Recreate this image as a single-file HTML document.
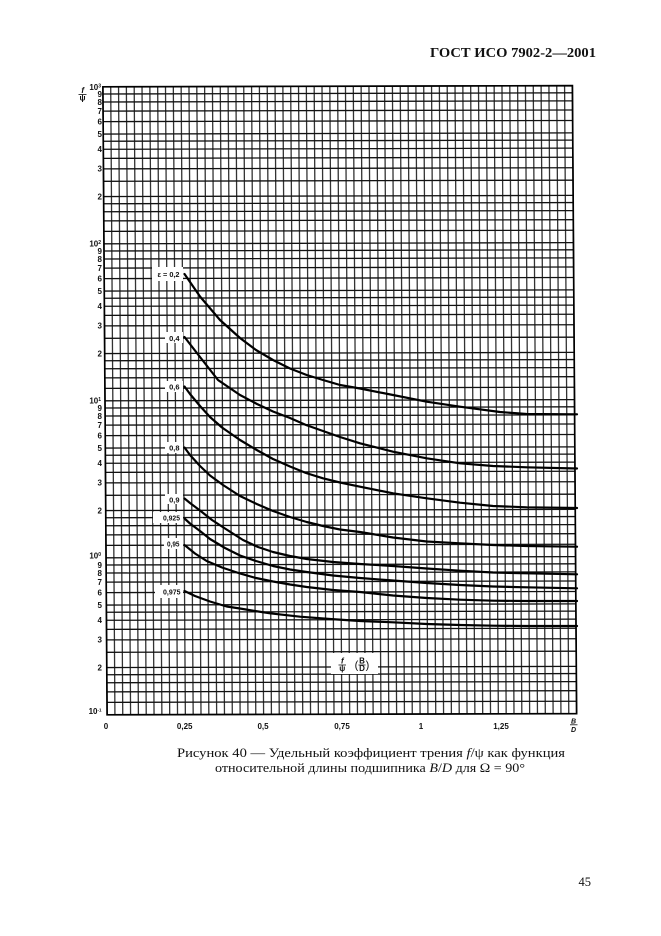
<!DOCTYPE html>
<html><head><meta charset="utf-8"><style>
html,body{margin:0;padding:0;background:#fff;}
svg{display:block;}
.t{font-family:"Liberation Sans",sans-serif;font-weight:bold;font-size:8px;fill:#111;}
.c{font-family:"Liberation Sans",sans-serif;font-weight:bold;font-size:7.5px;fill:#111;}
.s{font-family:"Liberation Serif","Noto Serif CJK SC",serif;fill:#111;}
</style></head><body>
<svg width="661" height="936" viewBox="0 0 661 936" xmlns="http://www.w3.org/2000/svg">
<rect width="661" height="936" fill="#fff"/>
<text class="s" x="596" y="57" text-anchor="end" font-weight="bold" font-size="13.5" textLength="166" lengthAdjust="spacingAndGlyphs">ГОСТ ИСО 7902-2—2001</text>

<g transform="matrix(7.825 -0.0192 0.0105 1.57 102.9 86.8)" fill="none">
<path stroke="#333" stroke-width="1.3" vector-effect="non-scaling-stroke" d="M0 0V400M1 0V400M2 0V400M3 0V400M4 0V400M5 0V400M6 0V400M7 0V400M8 0V400M9 0V400M10 0V400M11 0V400M12 0V400M13 0V400M14 0V400M15 0V400M16 0V400M17 0V400M18 0V400M19 0V400M20 0V400M21 0V400M22 0V400M23 0V400M24 0V400M25 0V400M26 0V400M27 0V400M28 0V400M29 0V400M30 0V400M31 0V400M32 0V400M33 0V400M34 0V400M35 0V400M36 0V400M37 0V400M38 0V400M39 0V400M40 0V400M41 0V400M42 0V400M43 0V400M44 0V400M45 0V400M46 0V400M47 0V400M48 0V400M49 0V400M50 0V400M51 0V400M52 0V400M53 0V400M54 0V400M55 0V400M56 0V400M57 0V400M58 0V400M59 0V400M60 0V400"/>
<path stroke="#111" stroke-width="1.3" vector-effect="non-scaling-stroke" d="M0 0H60M0 4.576H60M0 9.691H60M0 15.49H60M0 22.185H60M0 30.103H60M0 34.679H60M0 39.794H60M0 45.593H60M0 52.288H60M0 60.206H60M0 69.897H60M0 74.473H60M0 79.588H60M0 85.387H60M0 92.082H60
M0 100H60M0 104.576H60M0 109.691H60M0 115.49H60M0 122.185H60M0 130.103H60M0 134.679H60M0 139.794H60M0 145.593H60M0 152.288H60M0 160.206H60M0 169.897H60M0 174.473H60M0 179.588H60M0 185.387H60M0 192.082H60
M0 200H60M0 204.576H60M0 209.691H60M0 215.49H60M0 222.185H60M0 230.103H60M0 234.679H60M0 239.794H60M0 245.593H60M0 252.288H60M0 260.206H60M0 269.897H60M0 274.473H60M0 279.588H60M0 285.387H60M0 292.082H60
M0 300H60M0 304.576H60M0 309.691H60M0 315.49H60M0 322.185H60M0 330.103H60M0 334.679H60M0 339.794H60M0 345.593H60M0 352.288H60M0 360.206H60M0 369.897H60M0 374.473H60M0 379.588H60M0 385.387H60M0 392.082H60
M0 400H60"/>
<path stroke="#000" stroke-width="1.7" vector-effect="non-scaling-stroke" d="M0 0H60V400H0Z"/>
</g>

<!-- label boxes -->
<g fill="#fff">
<rect x="152" y="267" width="31" height="14"/>
<rect x="165" y="332" width="18" height="11"/>
<rect x="165" y="381" width="18" height="11"/>
<rect x="165" y="442" width="18" height="11"/>
<rect x="165" y="494" width="18" height="10"/>
<rect x="153" y="512" width="30" height="11"/>
<rect x="164" y="538" width="19" height="11"/>
<rect x="155" y="585" width="28" height="13"/>
<rect x="331" y="653" width="47" height="21"/>
</g>

<!-- curve labels -->
<g class="c" text-anchor="end">
<text x="179.5" y="277" textLength="22" lengthAdjust="spacingAndGlyphs">ε = 0,2</text>
<text x="179.5" y="341">0,4</text>
<text x="179.5" y="389.7">0,6</text>
<text x="179.5" y="450.3">0,8</text>
<text x="179.5" y="502.3">0,9</text>
<text x="180" y="520.3" textLength="17" lengthAdjust="spacingAndGlyphs">0,925</text>
<text x="179.5" y="546.3" textLength="12.5" lengthAdjust="spacingAndGlyphs">0,95</text>
<text x="180.5" y="594.7" textLength="17.5" lengthAdjust="spacingAndGlyphs">0,975</text>
</g>

<!-- curves -->
<g fill="none" stroke="#000" stroke-width="2.2" stroke-linejoin="round" stroke-linecap="round">
<polyline points="184.5,274 200,296.5 220,320 240,338 256,350 273,360 290,368.5 306.7,375 323,380 340,385 360,388.5 393,395 426.7,401.7 460,406.7 500,412 526.7,414 577,414.3"/>
<polyline points="184.5,337 200,357 218,380 240,395 257,404 273,411.5 290,418 306,425 323,431 340,437 360,443.3 393,451.7 426.7,458.3 460,463.3 493,466 526.7,467.3 577,468.5"/>
<polyline points="184.5,386.5 190,394 200,406 210,417 222,427.5 240,440 256.7,450 273,459 290,466.5 306,473 323,478.3 340,482.5 360,486.7 393,493.3 426.7,498.3 460,502.7 493,506 526.7,507.3 577,508"/>
<polyline points="184.5,447.5 190,455 200,466 210,475.5 223,485 240,496 256.7,504 273,511 290,517 306.7,522 323,526 340,529.5 360,532 393,537.5 426.7,541.5 460,543.3 493,545 526.7,546 577,546.7"/>
<polyline points="184.5,498.5 190,503 200,510.5 212,520 225,528.5 243,540 258,547 273,552 290,556 306.7,559 333,562 360,564 393,566 426.7,568.5 460,570.7 493,572.5 526.7,573.3 577,574.3"/>
<polyline points="184.5,518.5 190,523.5 200,531 210,539 225,548 240,555.5 256,561 273,566 290,569.5 306.7,572 333,575.5 360,578 393,580.5 426.7,583 460,585 493,586.5 526.7,587.3 577,588.3"/>
<polyline points="184.5,545 195,553.5 206.7,561 222,567.5 240,573.5 256,578 273,581.5 290,584.5 306.7,587 333,590 360,592 393,595.5 426.7,598 460,599.7 493,600.7 526.7,601 577,601"/>
<polyline points="184.5,591 195,596 210,601.5 226.7,606.5 240,608.5 255,611 270,613.3 300,616.7 330,619 360,621 393,622.3 426.7,624 460,625 493,625.7 526.7,626 577,626"/>
</g>

<!-- f/psi (B/D) label inside chart -->
<g class="t" font-size="6.5" text-anchor="middle">
<text x="342.3" y="663.5" font-style="italic">f</text>
<line x1="338.5" y1="665" x2="346" y2="665" stroke="#111" stroke-width="0.8"/>
<text x="342.3" y="671">ψ</text>
<text x="356.5" y="668.5" font-size="11" font-weight="normal">(</text>
<text x="362" y="663.5">B</text>
<line x1="358.5" y1="665" x2="365.5" y2="665" stroke="#111" stroke-width="0.8"/>
<text x="362" y="671">D</text>
<text x="367.5" y="668.5" font-size="11" font-weight="normal">)</text>
</g>

<!-- y-axis label f/psi -->
<g class="t" font-size="6.5" text-anchor="middle">
<text x="82.7" y="93" font-style="italic">f</text>
<line x1="78.5" y1="94.5" x2="86.5" y2="94.5" stroke="#111" stroke-width="0.8"/>
<text x="82.5" y="100.5">ψ</text>
</g>

<!-- y tick labels -->
<g class="t" text-anchor="end">
<text x="101" y="90">10<tspan font-size="5" dy="-2.5">3</tspan></text>
<text x="102" y="96.8">9</text><text x="102" y="104.8">8</text><text x="102" y="113.9">7</text><text x="102" y="124.4">6</text><text x="102" y="136.9">5</text><text x="102" y="152.1">4</text><text x="102" y="171.7">3</text><text x="102" y="199.3">2</text>
<text x="101" y="246.6">10<tspan font-size="5" dy="-2.5">2</tspan></text>
<text x="102" y="253.8">9</text><text x="102" y="261.8">8</text><text x="102" y="270.9">7</text><text x="102" y="281.4">6</text><text x="102" y="293.9">5</text><text x="102" y="309.1">4</text><text x="102" y="328.7">3</text><text x="102" y="356.3">2</text>
<text x="101" y="403.6">10<tspan font-size="5" dy="-2.5">1</tspan></text>
<text x="102" y="410.8">9</text><text x="102" y="418.8">8</text><text x="102" y="427.9">7</text><text x="102" y="438.4">6</text><text x="102" y="450.9">5</text><text x="102" y="466.1">4</text><text x="102" y="485.7">3</text><text x="102" y="513.3">2</text>
<text x="101" y="558.6">10<tspan font-size="5" dy="-2.5">0</tspan></text>
<text x="102" y="567.8">9</text><text x="102" y="575.8">8</text><text x="102" y="584.9">7</text><text x="102" y="595.4">6</text><text x="102" y="607.9">5</text><text x="102" y="623.1">4</text><text x="102" y="642.7">3</text><text x="102" y="670.3">2</text>
<text x="101.5" y="714">10<tspan font-size="4.5" dy="-2.5">-1</tspan></text>
</g>

<!-- x tick labels -->
<g class="t" text-anchor="middle" font-size="7.5">
<text x="106" y="729">0</text>
<text x="184.7" y="729">0,25</text>
<text x="263" y="729">0,5</text>
<text x="342" y="729">0,75</text>
<text x="421" y="729">1</text>
<text x="501" y="729">1,25</text>
<text x="573.5" y="723.3" font-size="7" font-style="italic">B</text>
<line x1="570" y1="724.8" x2="577.5" y2="724.8" stroke="#111" stroke-width="0.8"/>
<text x="573.5" y="731.8" font-size="7" font-style="italic">D</text>
</g>

<!-- caption -->
<text class="s" x="177" y="757" font-size="12.5" textLength="388" lengthAdjust="spacingAndGlyphs">Рисунок 40 — Удельный коэффициент трения <tspan font-style="italic">f</tspan>/ψ как функция</text>
<text class="s" x="215" y="772" font-size="12.5" textLength="310" lengthAdjust="spacingAndGlyphs">относительной длины подшипника <tspan font-style="italic">B</tspan>/<tspan font-style="italic">D</tspan> для Ω = 90°</text>

<text class="s" x="591" y="886" text-anchor="end" font-size="12.5">45</text>
</svg>
</body></html>
